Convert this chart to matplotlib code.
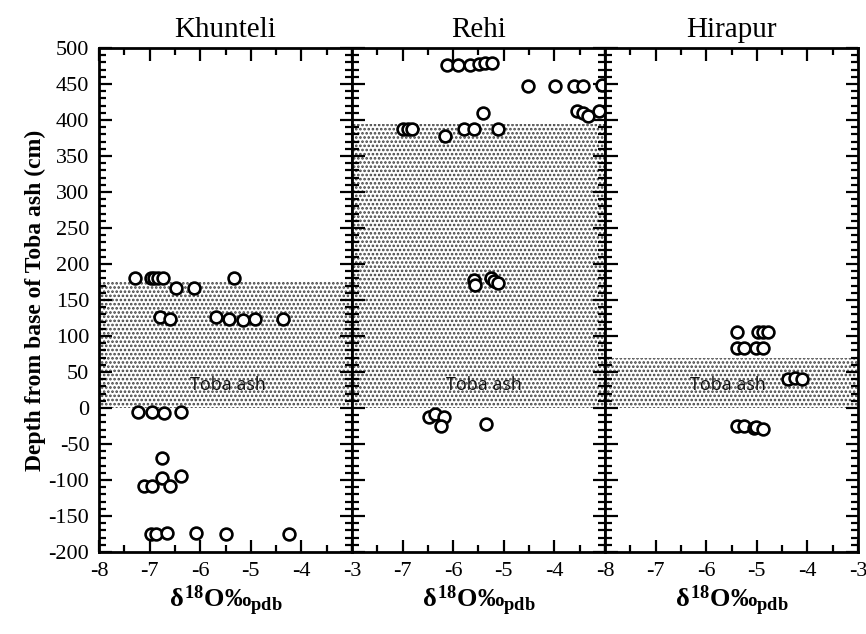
import matplotlib.pyplot as plt
from matplotlib.ticker import MultipleLocator

plt.rcParams['font.family'] = ['Liberation Serif', 'DejaVu Serif']
plt.rcParams['mathtext.fontset'] = 'custom'
plt.rcParams['mathtext.rm'] = 'Liberation Serif:bold'
plt.rcParams['mathtext.it'] = 'Liberation Serif:bold'
plt.rcParams['mathtext.bf'] = 'Liberation Serif:bold'
plt.rcParams['axes.unicode_minus'] = False
plt.rcParams['hatch.linewidth'] = 1.25

# Site names and top of the Toba ash layer (cm)
sites = ["Khunteli", "Rehi", "Hirapur"]
ash_top = [176, 394, 69]

# d18O values (x) and depth (y)
khunteli_x = [-7.28, -6.98, -6.92, -6.84, -6.73, -5.33, -6.47, -6.13,
              -6.80, -6.59, -5.69, -5.43, -5.15, -4.91, -4.37,
              -7.22, -6.96, -6.71, -6.37, -6.75, -6.76, -6.37,
              -7.12, -6.96, -6.59,
              -6.98, -6.88, -6.65, -6.09, -5.49, -4.24]
khunteli_y = [181, 181, 181, 181, 181, 181, 166, 166,
              127, 124, 127, 124, 122, 124, 124,
              -5, -5, -7, -5, -70, -97, -95,
              -108, -108, -108,
              -175, -175, -173, -173, -175, -175]

rehi_x = [-6.12, -5.90, -5.67, -5.49, -5.37, -5.24,
          -4.53, -3.98, -3.61, -3.43, -3.06,
          -5.41, -3.55, -3.43, -3.33, -3.12,
          -7.0, -6.9, -6.82, -5.78, -5.59, -5.12, -6.16,
          -5.59, -5.57, -5.25, -5.20, -5.12,
          -6.47, -6.35, -6.18, -6.24, -5.35]
rehi_y = [476, 476, 476, 478, 479, 479,
          447, 447, 447, 447, 449,
          410, 413, 410, 406, 413,
          388, 388, 388, 388, 388, 388, 378,
          178, 171, 180, 177, 174,
          -13, -9, -12, -25, -22]

hirapur_x = [-5.40, -4.98, -4.88, -4.77,
             -5.40, -5.25, -5.02, -4.87,
             -4.38, -4.25, -4.10,
             -5.40, -5.25, -5.06, -5.02, -4.88]
hirapur_y = [106, 106, 106, 106,
             84, 84, 84, 84,
             40, 42, 40,
             -25, -25, -28, -26, -29]

xs = [khunteli_x, rehi_x, hirapur_x]
ys = [khunteli_y, rehi_y, hirapur_y]
label_x = [-5.45, -5.39, -5.58]

fig = plt.figure(figsize=(8.66, 6.34), dpi=100)
left, right, bottom, top = 99 / 866, 858 / 866, 1 - 552 / 634, 1 - 48 / 634
w = (right - left) / 3

for i in range(3):
    ax = fig.add_axes([left + i * w, bottom, w, top - bottom])
    ax.axhspan(0, ash_top[i], facecolor='white', edgecolor='0.25',
               hatch='....', lw=0, zorder=0)
    ax.text(label_x[i], 32, "Toba ash", family='Open Sans', fontsize=13,
            color='#111111', ha='center', va='center', zorder=1)
    ax.plot(xs[i], ys[i], 'o', ms=8.5, mfc='white', mec='black', mew=1.9,
            zorder=3)
    ax.set_xlim(-8, -3)
    ax.set_ylim(-200, 500)
    ax.xaxis.set_major_locator(MultipleLocator(1))
    ax.xaxis.set_minor_locator(MultipleLocator(0.5))
    ax.yaxis.set_major_locator(MultipleLocator(50))
    ax.yaxis.set_minor_locator(MultipleLocator(10))
    ax.tick_params(which='both', direction='in', top=True, right=True,
                   width=1.6, labelsize=16)
    ax.tick_params(which='major', length=9, pad=7)
    ax.tick_params(which='minor', length=5)
    for s in ax.spines.values():
        s.set_linewidth(2)
    if i == 1:
        ax.set_xticks([-7, -6, -5, -4])
        ax.xaxis.set_minor_locator(MultipleLocator(0.5))
    if i > 0:
        ax.tick_params(labelleft=False)
    ax.set_title(sites[i], fontsize=21, pad=8)
    ax.set_xlabel(r'$\delta^{18}$O‰$_{\rm pdb}$', fontsize=19,
                  fontweight='bold', labelpad=2)
    if i == 0:
        ax.set_ylabel("Depth from base of Toba ash (cm)", fontsize=17,
                      fontweight='bold', labelpad=2)

fig.savefig("out.png", dpi=100)
